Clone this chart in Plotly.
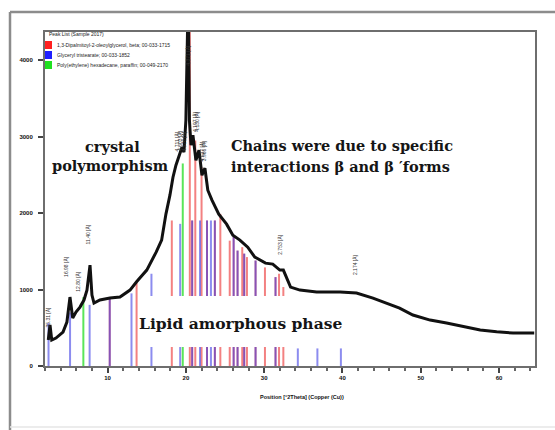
import plotly.graph_objects as go

# ---------------- data ----------------
two_theta = [2.42, 2.64, 2.86, 3.4, 4.3, 4.8, 5.19, 5.54, 5.96, 6.47, 6.98, 7.36, 7.75, 8.0, 8.26,
             9.02, 10.3, 11.58, 12.86, 13.7, 15.0, 15.54, 16.2, 16.9, 17.45, 17.96, 18.35, 18.73,
             19.04, 19.5, 19.75, 20.0, 20.3, 20.45, 20.65, 20.9, 21.28, 21.67, 22.05, 22.43, 22.8,
             23.33, 24.2, 25.2, 26.0, 26.9, 27.9, 28.8, 30.17, 31.1, 32.0, 32.45, 33.37, 34.57,
             36.7, 39.7, 41.8, 43.9, 45.6, 47.3, 49.0, 51.2, 53.3, 55.4, 57.6, 59.7, 61.8, 64.5]
counts = [340, 536, 340, 366, 444, 575, 902, 627, 706, 771, 863, 993, 1320, 928, 823,
          863, 889, 902, 993, 1102, 1255, 1359, 1490, 1647, 1987, 2235, 2470, 2627,
          2732, 2862, 2797, 3215, 4900, 3215, 2888, 3019, 2692, 2823, 2496, 2588, 2300,
          2170, 1987, 1856, 1712, 1647, 1555, 1425, 1346, 1333, 1255, 1255, 1032, 993,
          967, 967, 954, 889, 823, 758, 667, 601, 562, 514, 470, 448, 431, 431]

red_pos = [10.27, 13.7, 18.2, 20.5, 20.8, 21.2, 22.0, 22.7, 23.7, 24.4, 25.6, 26.1, 26.6,
           27.2, 27.45, 27.8, 28.9, 30.1, 31.45, 31.9, 32.45]
red_int = [900, 1090, 1904, 4600, 1904, 2950, 2600, 1904, 1904, 1990, 1640, 1690, 1510,
           1555, 1470, 1425, 1380, 1290, 1163, 1207, 1033]
blue_pos = [2.45, 5.2, 7.7, 10.27, 13.05, 15.6, 19.27, 20.8, 21.8, 22.7, 23.2, 23.7, 26.1,
            26.6, 27.45, 28.9, 31.45, 34.3, 36.8, 39.8]
blue_int = [560, 700, 800, 900, 950, 1207, 1860, 1904, 1904, 1904, 1904, 1904, 1690,
            1510, 1470, 1380, 1163, 230, 230, 230]
green_pos = [6.9, 19.6]
green_int = [900, 2650]

peak_label_pos = [2.35, 4.75, 6.2, 7.45, 18.85, 19.25, 19.7, 20.3, 21.15, 21.5, 22.0, 22.35, 32.1, 41.6]
peak_label_base = [480, 1140, 950, 1560, 2780, 2780, 2780, 3900, 3040, 3040, 2650, 2650, 1430, 1170]
peak_label_text = ["35.31 [Å]", "16.98 [Å]", "12.80 [Å]", "11.40 [Å]", "4.711 [Å]", "4.603 [Å]",
                   "4.526 [Å]", "4.371 [Å]", "4.197 [Å]", "4.130 [Å]", "4.037 [Å]", "3.966 [Å]",
                   "2.753 [Å]", "2.174 [Å]"]

legend_header = "Peak List (Sample 2017)"
legend_names = ["1,3-Dipalmitoyl-2-oleoylglycerol, beta; 00-033-1715",
                "Glyceryl tristearate; 00-033-1852",
                "Poly(ethylene) hexadecane, paraffin; 00-049-2170"]
legend_colors = ["#ff2020", "#2020ff", "#20e020"]

x_ticks = [10, 20, 30, 40, 50, 60]
y_ticks = [0, 1000, 2000, 3000, 4000]

# ---------------- figure ----------------
W, H = 555, 430
L, R, T, B = 45, 20, 32, 64
pw, ph = W - L - R, H - T - B


def px(x):
    return (x - L) / pw


def py(y):
    return (H - B - y) / ph


def sticks(pos, vals):
    xs, ys = [], []
    for p, v in zip(pos, vals):
        xs += [p, p, None]
        ys += [0, v, None]
    return xs, ys


fig = go.Figure()
for pos, vals, col in [(red_pos, red_int, "rgba(235,45,45,0.6)"),
                       (blue_pos, blue_int, "rgba(45,45,225,0.55)"),
                       (green_pos, green_int, "rgba(60,225,60,0.85)")]:
    xs, ys = sticks(pos, vals)
    fig.add_trace(go.Scatter(x=xs, y=ys, mode="lines", line=dict(color=col, width=2),
                             showlegend=False, hoverinfo="skip"))

fig.add_trace(go.Scatter(x=two_theta, y=counts, mode="lines",
                         line=dict(color="#111111", width=3), showlegend=False))

shapes = []
# white box behind "Lipid amorphous phase"
shapes.append(dict(type="rect", xref="paper", yref="paper", x0=px(139), x1=px(349),
                   y0=py(347), y1=py(296), fillcolor="white", line=dict(width=0), layer="above"))
# outer frame
shapes.append(dict(type="line", xref="paper", yref="paper", x0=px(10), x1=px(560),
                   y0=py(12), y1=py(12), line=dict(color="#8c8c8c", width=2.5)))
shapes.append(dict(type="line", xref="paper", yref="paper", x0=px(10), x1=px(10),
                   y0=py(12), y1=py(432), line=dict(color="#8c8c8c", width=2.5)))
shapes.append(dict(type="line", xref="paper", yref="paper", x0=px(10), x1=px(560),
                   y0=py(427), y1=py(427), line=dict(color="#e6e6e6", width=1.5)))
# legend swatches
for i, c in enumerate(legend_colors):
    yc = 45 + 10 * i
    shapes.append(dict(type="rect", xref="paper", yref="paper", x0=px(45), x1=px(52),
                       y0=py(yc + 4), y1=py(yc - 4), fillcolor=c, line=dict(width=0), layer="above"))

ann = []
serif = "DejaVu Serif"
big = dict(family=serif, size=14.5, color="#151515", weight="bold")
ann.append(dict(text="crystal", x=px(112), y=py(146), font=big))
ann.append(dict(text="polymorphism", x=px(110), y=py(165), font=big))
ann.append(dict(text="Chains were due to specific", x=px(229), y=py(145), xanchor="left", font=big))
ann.append(dict(text="interactions β and β ′forms", x=px(229), y=py(166), xanchor="left", font=big))
ann.append(dict(text="Lipid amorphous phase", x=px(137), y=py(323), xanchor="left",
                font=dict(family=serif, size=15.5, color="#151515", weight="bold")))
# axis title
ann.append(dict(text="Position [°2Theta] (Copper (Cu))", x=px(302), y=py(397),
                font=dict(family="Arial", size=5.5, color="#111", weight="bold")))
# legend text
ann.append(dict(text=legend_header, x=px(47), y=py(34), xanchor="left",
                font=dict(family="Arial", size=5, color="#222")))
for i, nm in enumerate(legend_names):
    ann.append(dict(text=nm, x=px(55), y=py(45 + 10 * i), xanchor="left",
                    font=dict(family="Arial", size=5, color="#222")))
for a in ann:
    a.update(xref="paper", yref="paper", showarrow=False)
    a.setdefault("xanchor", "center")
    a.setdefault("yanchor", "middle")
# peak labels
for xp, yb, t in zip(peak_label_pos, peak_label_base, peak_label_text):
    ann.append(dict(text=t, x=xp, y=yb, xref="x", yref="y", showarrow=False, textangle=-90,
                    xanchor="center", yanchor="bottom", font=dict(family="Arial", size=5, color="#333")))

fig.update_layout(
    width=W, height=H, margin=dict(l=L, r=R, t=T, b=B),
    paper_bgcolor="white", plot_bgcolor="white",
    shapes=shapes, annotations=ann, showlegend=False,
    xaxis=dict(range=[2, 64.6], tickvals=x_ticks, ticks="outside", ticklen=5, tickwidth=1.5,
               tickcolor="#444", showline=True, mirror=True, linecolor="#6e6e6e", linewidth=2,
               showgrid=False, zeroline=False,
               tickfont=dict(family="Arial", size=6, color="#111", weight="bold"),
               minor=dict(dtick=2, tick0=0, ticks="outside", ticklen=2.5, tickcolor="#666")),
    yaxis=dict(range=[0, 4370], tickvals=y_ticks, ticks="outside", ticklen=5, tickwidth=1.5,
               tickcolor="#444", showline=True, mirror=True, linecolor="#6e6e6e", linewidth=2,
               showgrid=False, zeroline=False, ticklabelstandoff=4,
               tickfont=dict(family="Arial", size=6, color="#111", weight="bold")),
)

fig.write_html("out.html", config={"displayModeBar": False},
               post_script="document.body.style.margin='0';document.body.style.overflow='hidden';")
